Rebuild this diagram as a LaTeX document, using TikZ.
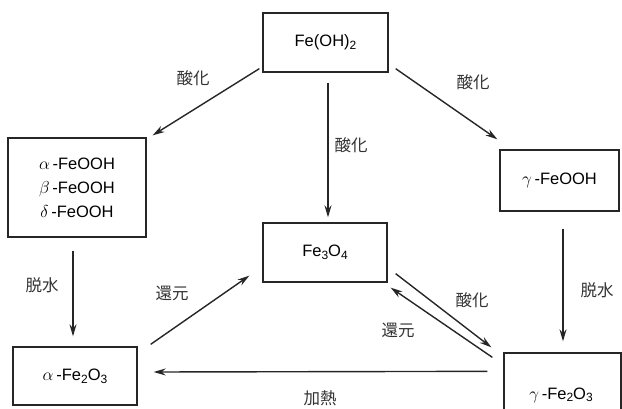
\documentclass[tikz,border=0pt]{standalone}
\usepackage{fontspec}
\setmainfont{Liberation Sans}
\newfontfamily\jp{Noto Sans CJK JP}
\usetikzlibrary{calc,arrows.meta}
\newcommand{\chemsub}[1]{\raisebox{-0.3ex}{\fontsize{12}{12}\selectfont #1}}
\begin{document}
\begin{tikzpicture}[x=1pt,y=-1pt,
  box/.style={draw=black!85,line width=1.3pt,inner sep=0pt,font=\fontsize{16.5}{19}\selectfont},
  arr/.style={line width=1.4pt,black!85,-{Stealth[length=12pt,width=7pt]}},
  lbl/.style={font=\jp\fontsize{16.5}{18}\selectfont,text=black!80}]
\useasboundingbox (0,0) rectangle (622,409);
\clip (0,0) rectangle (622,409);
% boxes
\node[box,minimum width=125pt,minimum height=59pt] (A) at (325.5,42.5) {Fe(OH)\chemsub{2}};
\node[box,minimum width=138pt,minimum height=99pt,align=center] (B) at (77,187.5)
  {$\alpha$\,-FeOOH\\[5pt]$\beta$\,-FeOOH\\[5pt]$\delta$\,-FeOOH};
\node[box,minimum width=119pt,minimum height=61pt] (C) at (559.5,180.5) {$\gamma$\,-FeOOH};
\node[box,minimum width=124pt,minimum height=59pt] (D) at (325,252.5) {Fe\chemsub{3}O\chemsub{4}};
\node[box,minimum width=124pt,minimum height=58pt] (E) at (75,376) {$\alpha$\,-Fe\chemsub{2}O\chemsub{3}};
\node[box,minimum width=117pt,minimum height=87pt,text depth=0pt] (F) at (562.5,396.5) {};
\node[font=\fontsize{16.5}{19}\selectfont] (Ft) at (561,395) {$\gamma$\,-Fe\chemsub{2}O\chemsub{3}};
% arrows
\draw[arr] ($(A.south west)+(-3,-4)$) -- ($(B.north east)+(6,-2)$);
\draw[arr] ($(A.south)+(2.5,10)$) -- ($(D.north)+(3,-5)$);
\draw[arr] ($(A.south east)+(7,-4)$) -- ($(C.north west)+(-2,-10)$);
\draw[arr] ($(B.south)+(-4,13)$) -- ($(E.north)+(-2,-10)$);
\draw[arr] ($(C.south)+(3.5,17)$) -- ($(F.north)+(0.5,-11)$);
\draw[arr] ($(E.north east)+(13,-2)$) -- ($(D.south west)+(-13,-7)$);
\draw[arr] ($(D.south east)+(8,-9)$) -- ($(F.north west)+(-12,-5)$);
\draw[arr] ($(F.north west)+(-11,5)$) -- ($(D.south east)+(3,5)$);
\draw[arr] ($(F.north west)+(-16,19)$) -- ($(E.east)+(16,-4)$);
% labels
\node[lbl] (l1) at (193,78) {酸化};
\node[lbl] (l2) at (351,145) {酸化};
\node[lbl] (l3) at (473,82) {酸化};
\node[lbl] (l4) at (42,285) {脱水};
\node[lbl] (l5) at (597,290) {脱水};
\node[lbl] (l6) at (172,293) {還元};
\node[lbl] (l7) at (472,300) {酸化};
\node[lbl] (l8) at (398,330) {還元};
\node[lbl] (l9) at (320,398) {加熱};
\end{tikzpicture}
\end{document}
